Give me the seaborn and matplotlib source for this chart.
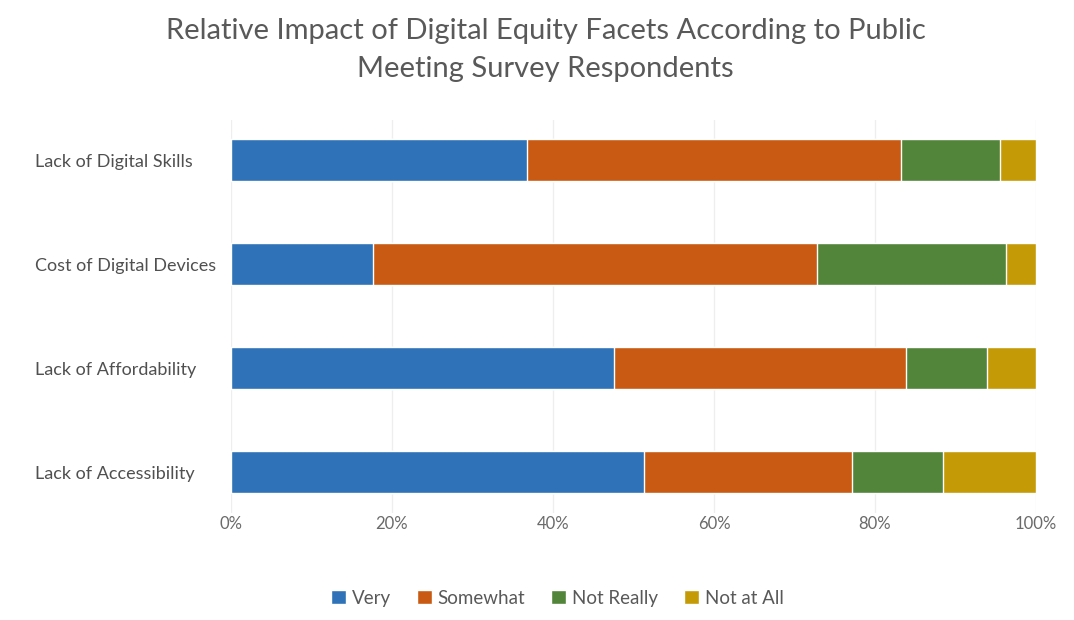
import numpy as np
import pandas as pd
import matplotlib
matplotlib.use("Agg")
import matplotlib.pyplot as plt
import seaborn as sns
from matplotlib.patches import Patch
from matplotlib.ticker import PercentFormatter

categories = ["Lack of Digital Skills", "Cost of Digital Devices",
              "Lack of Affordability", "Lack of Accessibility"]
series = ["Very", "Somewhat", "Not Really", "Not at All"]
very = [36.8, 17.6, 47.6, 51.3]
somewhat = [46.4, 55.2, 36.3, 25.8]
not_really = [12.3, 23.5, 10.0, 11.3]
not_at_all = [4.5, 3.7, 6.1, 11.6]
colors = ["#2f72b8", "#c95a13", "#52843a", "#c49a06"]

sns.set_theme(style="white")
plt.rcParams["font.family"] = ["Lato", "DejaVu Sans"]

df = pd.DataFrame({"cat": categories, "Very": very, "Somewhat": somewhat,
                   "Not Really": not_really, "Not at All": not_at_all})
cum = df[series].cumsum(axis=1)

fig = plt.figure(figsize=(10.74, 6.2), dpi=100)
ax = fig.add_axes([231 / 1074, 1 - 513 / 620, 805 / 1074, 393 / 620])

# stacked bars: draw the longest cumulative first
for s, c in reversed(list(zip(series, colors))):
    sns.barplot(x=cum[s], y=df["cat"], color=c, width=0.404, ax=ax,
                orient="h", saturation=1, zorder=3)

ax.set_xlim(0, 100)
ax.set_ylim(3.394, -0.385)
ax.set_xticks(np.arange(0, 101, 20))
ax.xaxis.set_major_formatter(PercentFormatter(decimals=0))
ax.grid(axis="x", color="#eeeeee", linewidth=0.9, zorder=0)
for sp in ax.spines.values():
    sp.set_visible(False)
ax.set_xlabel("")
ax.set_ylabel("")
ax.tick_params(axis="x", length=0, colors="#6a6a6a", labelsize=12, pad=2)
ax.tick_params(axis="y", length=0, colors="#505050", labelsize=13,
               pad=196 * 72 / 100)
for lab in ax.get_yticklabels():
    lab.set_horizontalalignment("left")

fig.text(0.508, 0.950, "Relative Impact of Digital Equity Facets According to Public",
         ha="center", va="center", fontsize=21, color="#595959")
fig.text(0.508, 0.889, "Meeting Survey Respondents",
         ha="center", va="center", fontsize=21, color="#595959")

handles = [Patch(facecolor=c, label=s) for s, c in zip(series, colors)]
fig.legend(handles=handles, loc="center", bbox_to_anchor=(0.519, 0.035), ncol=4,
           frameon=False, fontsize=13.5, handlelength=0.8, handleheight=0.8,
           handletextpad=0.3, columnspacing=1.4, labelcolor="#595959")

fig.savefig("out.png", dpi=100)
